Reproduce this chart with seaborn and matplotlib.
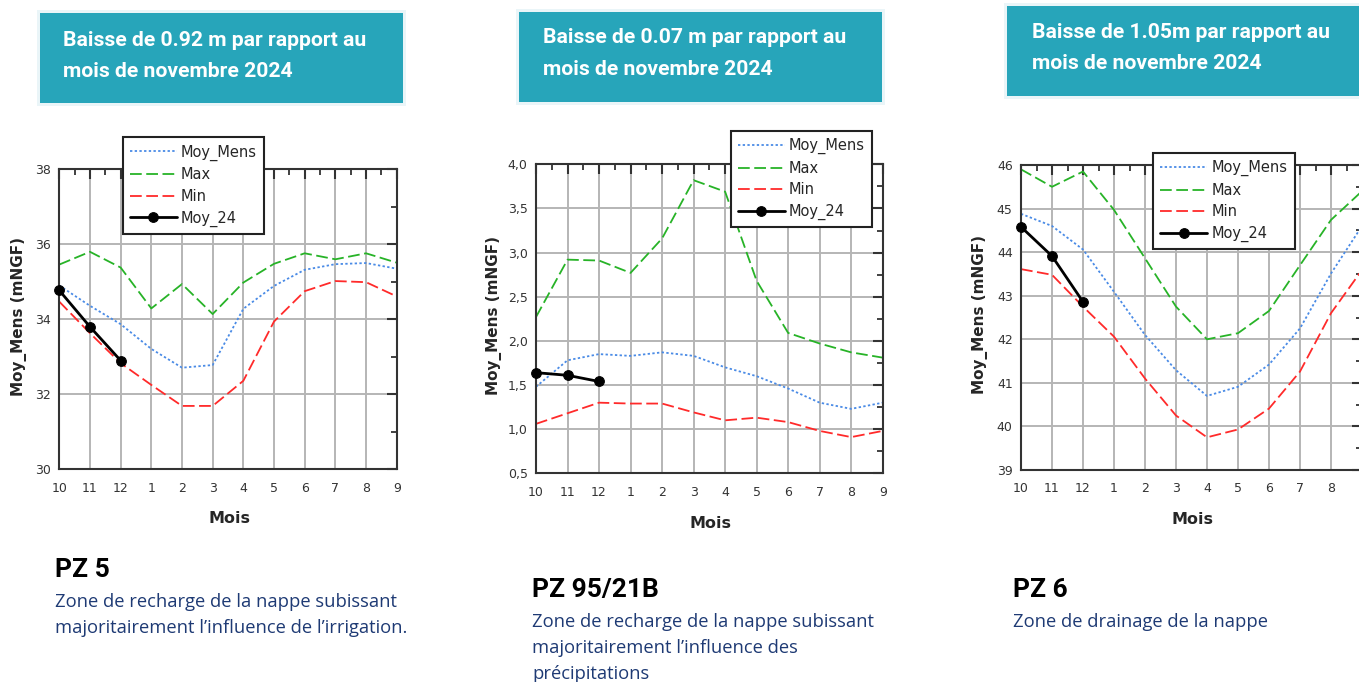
import matplotlib
matplotlib.use("Agg")
import matplotlib.pyplot as plt
from matplotlib.patches import Rectangle
from matplotlib.ticker import MultipleLocator, FuncFormatter
import pandas as pd
import seaborn as sns

# ------------------------------------------------------------
# Data
# ------------------------------------------------------------
months = ["10", "11", "12", "1", "2", "3", "4", "5", "6", "7", "8", "9"]
moy_24_months = ["10", "11", "12"]

# PZ 5
pz5_moy_mens = [34.90, 34.36, 33.87, 33.21, 32.71, 32.78, 34.28, 34.89, 35.32, 35.47, 35.50, 35.35]
pz5_max = [35.46, 35.80, 35.38, 34.29, 34.94, 34.14, 34.98, 35.48, 35.76, 35.60, 35.76, 35.51]
pz5_min = [34.47, 33.63, 32.83, 32.25, 31.69, 31.69, 32.36, 33.94, 34.75, 35.02, 34.99, 34.61]
pz5_moy_24 = [34.77, 33.80, 32.90]

# PZ 95/21B
pz95_moy_mens = [1.48, 1.78, 1.85, 1.83, 1.87, 1.83, 1.70, 1.60, 1.46, 1.30, 1.23, 1.30]
pz95_max = [2.27, 2.92, 2.91, 2.77, 3.16, 3.82, 3.69, 2.68, 2.09, 1.97, 1.87, 1.81]
pz95_min = [1.06, 1.18, 1.30, 1.29, 1.29, 1.19, 1.10, 1.13, 1.08, 0.98, 0.91, 0.98]
pz95_moy_24 = [1.64, 1.61, 1.54]

# PZ 6
pz6_moy_mens = [44.88, 44.60, 44.06, 43.09, 42.10, 41.29, 40.70, 40.91, 41.42, 42.25, 43.51, 44.60]
pz6_max = [45.90, 45.50, 45.85, 44.97, 43.86, 42.75, 42.00, 42.14, 42.65, 43.70, 44.74, 45.40]
pz6_min = [43.61, 43.48, 42.75, 42.06, 41.10, 40.25, 39.75, 39.93, 40.41, 41.26, 42.60, 43.59]
pz6_moy_24 = [44.58, 43.91, 42.86]

banner_texts = [
    "Baisse de 0.92 m par rapport au\nmois de novembre 2024",
    "Baisse de 0.07 m par rapport au\nmois de novembre 2024",
    "Baisse de 1.05m par rapport au\nmois de novembre 2024",
]
station_names = ["PZ 5", "PZ 95/21B", "PZ 6"]
station_descs = [
    "Zone de recharge de la nappe subissant\nmajoritairement l\u2019influence de l\u2019irrigation.",
    "Zone de recharge de la nappe subissant\nmajoritairement l\u2019influence des\npr\u00e9cipitations",
    "Zone de drainage de la nappe",
]

W, H = 1359, 682
TEAL = "#27A5BA"
NAVY = "#1E3A74"


def fx(px):
    return px / W


def fy(py):
    return 1 - py / H


sns.set_style("white")
plt.rcParams["font.family"] = ["DejaVu Sans"]

fig = plt.figure(figsize=(W / 100, H / 100), dpi=100)


def draw_chart(rect, moy_mens, vmax, vmin, moy_24, ylim, ystep, comma, legend_xy):
    left, top, right, bottom = rect
    ax = fig.add_axes([fx(left), fy(bottom), fx(right - left), (bottom - top) / H])

    x_all = list(range(len(months)))
    x_24 = list(range(len(moy_24_months)))

    sns.lineplot(x=x_all, y=moy_mens, ax=ax, color="#4A8BE6", lw=1.3,
                 linestyle=(0, (1.3, 1.3)), label="Moy_Mens")
    sns.lineplot(x=x_all, y=vmax, ax=ax, color="#27B327", lw=1.3,
                 linestyle=(0, (6.5, 2.5)), label="Max")
    sns.lineplot(x=x_all, y=vmin, ax=ax, color="#FF2A2A", lw=1.3,
                 linestyle=(0, (6.5, 2.5)), label="Min")
    sns.lineplot(x=x_24, y=moy_24, ax=ax, color="black", lw=2.0,
                 marker="o", markersize=7, markeredgecolor="black",
                 label="Moy_24", clip_on=False, zorder=5)

    ax.set_xlim(0, len(months) - 1)
    ax.set_ylim(*ylim)
    ax.set_xticks(x_all)
    ax.set_xticklabels(months)
    ax.xaxis.set_minor_locator(MultipleLocator(0.5))
    ax.yaxis.set_major_locator(MultipleLocator(ystep))
    ax.yaxis.set_minor_locator(MultipleLocator(ystep / 2))
    if comma:
        ax.yaxis.set_major_formatter(FuncFormatter(lambda v, p: f"{v:.1f}".replace(".", ",")))
    else:
        ax.yaxis.set_major_formatter(FuncFormatter(lambda v, p: f"{v:.0f}"))

    ax.grid(True, which="major", color="#B5B5B5", lw=1.4)
    ax.set_axisbelow(True)
    for sp in ax.spines.values():
        sp.set_color("#333333")
        sp.set_linewidth(1.5)

    ax.tick_params(which="major", direction="in", length=7, width=1.5, color="#333333",
                   top=True, right=True, labelsize=9, labelcolor="#333333")
    ax.tick_params(axis="x", which="major", pad=9)
    ax.tick_params(axis="y", which="major", pad=6)
    ax.tick_params(which="minor", direction="in", length=4, width=1.3, color="#333333",
                   top=True, right=True, bottom=False, left=False)

    ax.set_xlabel("Mois", fontsize=11.5, fontweight="bold")
    ax.set_ylabel("Moy_Mens (mNGF)", fontsize=11, fontweight="bold")
    ax.xaxis.set_label_coords(0.503, -0.139)
    ax.yaxis.set_label_coords(-0.097, 0.51)

    leg = ax.legend(loc="upper left", bbox_to_anchor=(fx(legend_xy[0]), fy(legend_xy[1])),
                    bbox_transform=fig.transFigure, fontsize=10.5, frameon=True,
                    fancybox=False, framealpha=1, edgecolor="#222222",
                    handlelength=3.2, handletextpad=0.3, borderpad=0.5,
                    labelspacing=0.45, borderaxespad=0)
    leg.get_frame().set_linewidth(1.5)
    leg.set_zorder(10)
    return ax


draw_chart((59.3, 169.3, 396.7, 469.3), pz5_moy_mens, pz5_max, pz5_min, pz5_moy_24,
           (30, 38), 2, False, (122.7, 137.3))
draw_chart((536, 164.3, 882.7, 473.3), pz95_moy_mens, pz95_max, pz95_min, pz95_moy_24,
           (0.5, 4.0), 0.5, True, (730.7, 130.7))
draw_chart((1021, 165, 1362, 470), pz6_moy_mens, pz6_max, pz6_min, pz6_moy_24,
           (39, 46), 1, False, (1153, 152.7))

# ------------------------------------------------------------
# Banners
# ------------------------------------------------------------
banners = [
    # (x0, y0, x1, y1, text_x, text_center_y)
    (40, 12.7, 403, 102.7, 63, 56),
    (519, 12.3, 881.7, 101.7, 543, 53.5),
    (1006.7, 5.7, 1365, 96, 1031.7, 48),
]
for (x0, y0, x1, y1, tx, ty), txt in zip(banners, banner_texts):
    fig.patches.append(Rectangle((fx(x0 - 3), fy(y1 + 3)), fx(x1 - x0 + 6), (y1 - y0 + 6) / H,
                                 transform=fig.transFigure, facecolor="#EAF5F8",
                                 edgecolor="none", zorder=0))
    fig.patches.append(Rectangle((fx(x0), fy(y1)), fx(x1 - x0), (y1 - y0) / H,
                                 transform=fig.transFigure, facecolor=TEAL,
                                 edgecolor="none", zorder=1))
    fig.text(fx(tx), fy(ty), txt, color="white", fontsize=15.2, fontweight="bold",
             family=["Roboto", "DejaVu Sans"], va="center", ha="left",
             linespacing=1.85)

# ------------------------------------------------------------
# Station names and descriptions
# ------------------------------------------------------------
station_pos = [(55, 577, 607), (532, 597, 627), (1013, 597, 627)]
for (x, name_y, desc_y), name, desc in zip(station_pos, station_names, station_descs):
    fig.text(fx(x), fy(name_y), name, color="black", fontsize=19, fontweight="bold",
             family=["Roboto", "DejaVu Sans"], va="baseline", ha="left")
    lines = desc.split("\n")
    for i, line in enumerate(lines):
        fig.text(fx(x), fy(desc_y + 26 * i), line, color=NAVY, fontsize=13.2,
                 family=["Open Sans", "DejaVu Sans"], va="baseline", ha="left")

fig.savefig("out.png", dpi=100)
